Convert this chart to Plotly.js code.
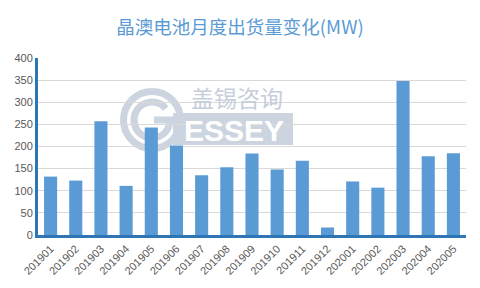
<!DOCTYPE html>
<html><head><meta charset="utf-8">
<script src="https://cdn.plot.ly/plotly-3.0.1.min.js"></script>
<style>html,body{margin:0;padding:0;background:#fff}#c{width:480px;height:288px}</style>
</head><body><div id="c"></div>
<script>
const months = ["201901","201902","201903","201904","201905","201906","201907","201908","201909","201910","201911","201912","202001","202002","202003","202004","202005"];
const shipments = [132,123,257,111,243,202,135,153,184,148,168,17,121,107,348,178,185];
const yTicks = [0,50,100,150,200,250,300,350,400];
const titleText = "晶澳电池月度出货量变化(MW)";
const wmCN = "盖锡咨询";
const wmEN = "ESSEY";

// plot area geometry (pixels) for the watermark decoration
const L=38, R=14, T=58, B=53, W=480, H=288;
const pw=W-L-R, ph=H-T-B;
const px = x => (x-L)/pw;
const py = y => (H-B-y)/ph;
function arc(cx,cy,r,a0,a1){
  const segs=Math.ceil(Math.abs(a1-a0)/90);
  const d=(a1-a0)/segs;
  let s="";
  const P=(a)=>[cx+r*Math.cos(a*Math.PI/180), cy-r*Math.sin(a*Math.PI/180)];
  let p=P(a0); s+=`M${px(p[0])},${py(p[1])}`;
  for(let i=0;i<segs;i++){
    const b0=a0+i*d, b1=b0+d;
    const k=4/3*Math.tan((d*Math.PI/180)/4);
    const p0=P(b0), p3=P(b1);
    const t0=[-Math.sin(b0*Math.PI/180), -Math.cos(b0*Math.PI/180)];
    const t1=[-Math.sin(b1*Math.PI/180), -Math.cos(b1*Math.PI/180)];
    const c1=[p0[0]+k*r*t0[0], p0[1]+k*r*t0[1]];
    const c2=[p3[0]-k*r*t1[0], p3[1]-k*r*t1[1]];
    s+=` C${px(c1[0])},${py(c1[1])} ${px(c2[0])},${py(c2[1])} ${px(p3[0])},${py(p3[1])}`;
  }
  return s;
}
const wm="#CCD5DF";
const cx=152, cy=120;
const shapes=[
  {type:"path",xref:"paper",yref:"paper",path:arc(cx,cy,28.5,0,360),line:{color:wm,width:7},layer:"below"},
  {type:"path",xref:"paper",yref:"paper",path:arc(cx,cy,18,40,355)+` L${px(cx+18)},${py(cy)} L${px(cx+2)},${py(cy)}`,line:{color:wm,width:7},layer:"below"},
  {type:"rect",xref:"paper",yref:"paper",x0:px(173),x1:px(293),y0:py(145),y1:py(113),fillcolor:wm,line:{width:0},layer:"below"}
];
const annotations=[
  {text:wmCN,xref:"paper",yref:"paper",x:px(237),y:py(97),xanchor:"center",yanchor:"middle",showarrow:false,font:{family:"Noto Sans CJK SC",size:23,color:"#C5CEDA"}},
  {text:wmEN,xref:"paper",yref:"paper",x:px(234),y:py(130),xanchor:"center",yanchor:"middle",showarrow:false,font:{family:"Liberation Sans",size:30,color:"#ffffff",weight:"bold"}}
];

Plotly.newPlot("c",[{
  type:"bar", x:months, y:shipments,
  marker:{color:"#5B9BD5"}, hoverinfo:"none"
}],{
  width:W,height:H,
  margin:{l:L,r:R,t:T,b:B,pad:0},
  paper_bgcolor:"#fff",plot_bgcolor:"rgba(0,0,0,0)",
  title:{text:titleText,x:0.5,xanchor:"center",y:0.905,yanchor:"middle",
    font:{family:"Noto Sans CJK SC",size:18.5,color:"#5B9BD5"}},
  bargap:0.48,
  xaxis:{type:"category",tickangle:-45,showline:true,linecolor:"#2E75B6",linewidth:3,
    ticks:"",showgrid:false,tickfont:{family:"Liberation Sans",size:11,color:"#595959"}},
  yaxis:{range:[0,400],tickvals:yTicks,showline:true,linecolor:"#2E75B6",linewidth:3,
    gridcolor:"#D9D9D9",gridwidth:1,zeroline:false,ticks:"",
    tickfont:{family:"Liberation Sans",size:11,color:"#595959"}},
  shapes:shapes, annotations:annotations, showlegend:false
},{staticPlot:true,displayModeBar:false});
</script></body></html>
